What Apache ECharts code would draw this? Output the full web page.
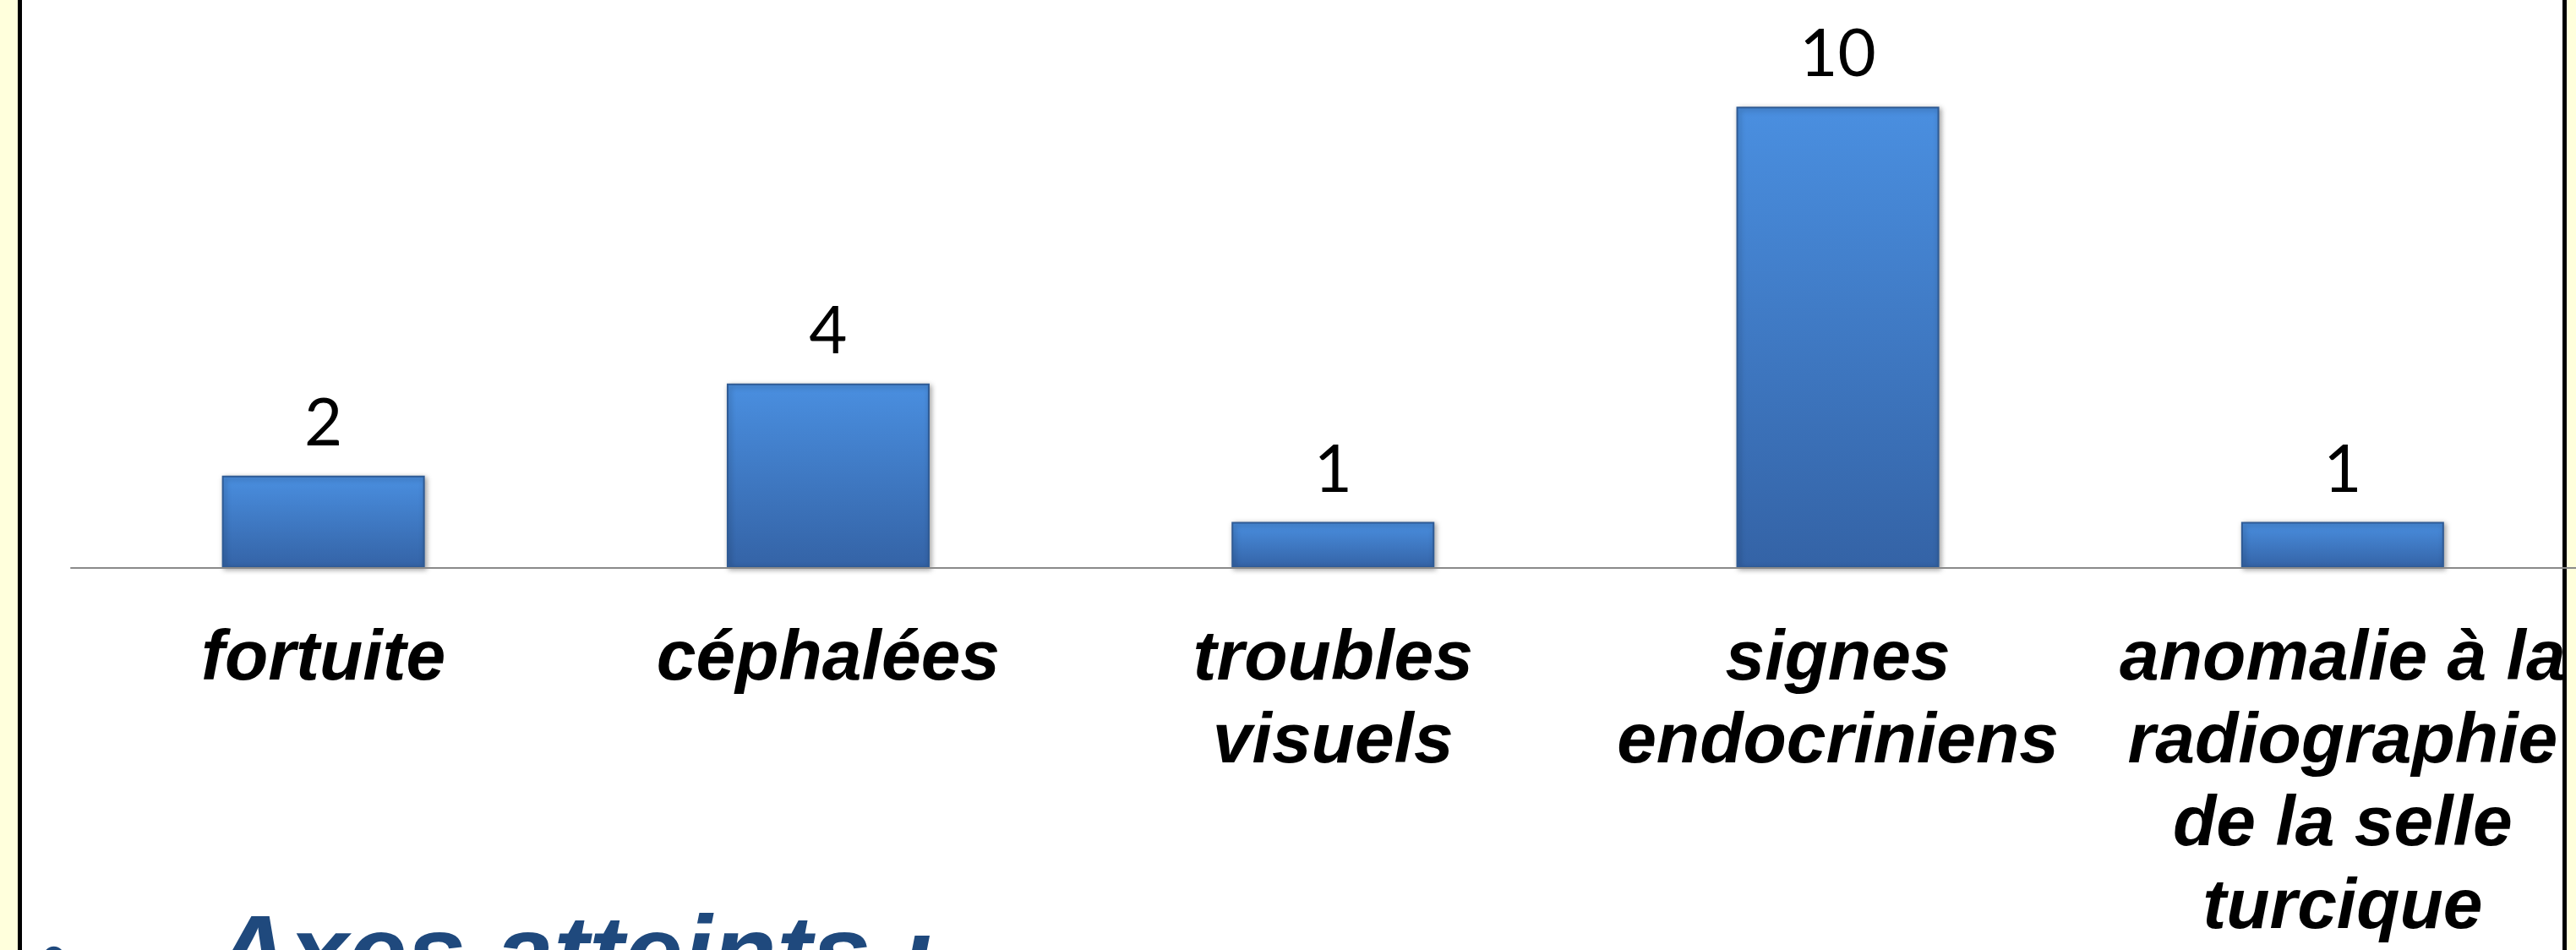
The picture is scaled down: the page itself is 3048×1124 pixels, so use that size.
<!DOCTYPE html>
<html>
<head>
<meta charset="utf-8">
<title>Circonstances de découverte</title>
<script src="https://cdn.jsdelivr.net/npm/echarts@6/dist/echarts.min.js"></script>
<style>
  html, body { margin: 0; padding: 0; background: #ffffff; overflow: hidden; }
  #chart { width: 3048px; height: 1124px; }
</style>
</head>
<body>
<div id="chart"></div>
<script>
// Circonstances de découverte : nombre de cas
const categories = [
  'fortuite',
  'céphalées',
  'troubles\nvisuels',
  'signes\nendocriniens',
  'anomalie à la\nradiographie\nde la selle\nturcique'
];
const counts = [2, 4, 1, 10, 1];
const sectionTitle = 'Axes atteints :';

// one slot per category; the last slot runs past the right edge of the page
const slotPx = 597.3;
const gridLeft = 84;
const xMax = (3048 - gridLeft) / slotPx - 0.5;

const chart = echarts.init(document.getElementById('chart'), null, { renderer: 'canvas' });

const barFill = new echarts.graphic.LinearGradient(0, 0, 0, 1, [
  { offset: 0, color: '#4a8fe0' },
  { offset: 1, color: '#3463a6' }
]);

chart.setOption({
  backgroundColor: '#ffffff',
  animation: false,
  grid: { left: gridLeft, top: 17, right: 0, bottom: 444, containLabel: false },
  xAxis: {
    type: 'value',
    min: -0.5,
    max: xMax,
    splitLine: { show: false },
    axisLine: { show: true, onZero: false, lineStyle: { color: '#8a8a8a', width: 2 } },
    axisTick: { show: false },
    axisLabel: {
      customValues: categories.map((c, i) => i),
      formatter: v => categories[Math.round(v)] || '',
      hideOverlap: false,
      margin: 60,
      fontFamily: '"Liberation Sans", Arial, sans-serif',
      fontWeight: 'bold',
      fontStyle: 'italic',
      fontSize: 84,
      lineHeight: 98,
      color: '#000000',
      align: 'center'
    },
    z: 5
  },
  yAxis: {
    type: 'value',
    min: 0,
    max: 12,
    show: false,
    splitLine: { show: false }
  },
  series: [{
    type: 'bar',
    data: counts.map((v, i) => [i, v]),
    barWidth: 240,
    clip: false,
    itemStyle: {
      color: barFill,
      borderColor: '#2f5b95',
      borderWidth: 2,
      shadowColor: 'rgba(0,0,0,0.35)',
      shadowBlur: 6,
      shadowOffsetX: 2,
      shadowOffsetY: 2
    },
    label: {
      show: true,
      position: 'top',
      distance: 22,
      formatter: p => String(p.value[1]),
      fontFamily: 'Lato, "Open Sans", sans-serif',
      fontSize: 78,
      color: '#000000'
    },
    z: 3
  }],
  graphic: [
    // margin strips and frame
    { type: 'rect', z: -10, shape: { x: 0, y: 0, width: 21, height: 1124 }, style: { fill: '#ffffdc' } },
    { type: 'rect', z: -10, shape: { x: 21, y: 0, width: 5, height: 1124 }, style: { fill: '#000000' } },
    { type: 'rect', z: -10, shape: { x: 3032, y: 0, width: 5, height: 1124 }, style: { fill: '#000000' } },
    { type: 'rect', z: -10, shape: { x: 3037, y: 0, width: 11, height: 1124 }, style: { fill: '#ffffdc' } },
    // bullet and heading of the next section
    {
      type: 'text', x: 48, y: 1093,
      style: { text: '•', font: 'bold 90px "Liberation Sans", Arial, sans-serif', fill: '#1f497d', verticalAlign: 'top' }
    },
    {
      type: 'text', x: 252, y: 1073,
      style: {
        text: sectionTitle,
        font: 'italic bold 125px "Liberation Sans", Arial, sans-serif',
        fill: '#1f497d',
        verticalAlign: 'top'
      }
    }
  ]
});
</script>
</body>
</html>
